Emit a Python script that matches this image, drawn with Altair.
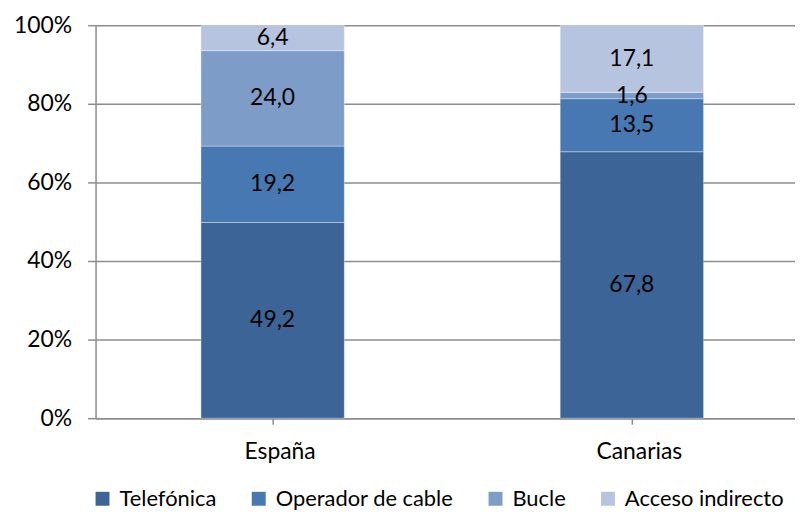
import altair as alt
import pandas as pd

categories = ["España", "Canarias"]
series = ["Telefónica", "Operador de cable", "Bucle", "Acceso indirecto"]
espana = [49.2, 19.2, 24.0, 6.4]
canarias = [67.8, 13.5, 1.6, 17.1]
colors = ["#3c6496", "#4778b1", "#7e9cc8", "#b7c4e0"]
y_ticks = [0, 0.2, 0.4, 0.6, 0.8, 1.0]

rows = []
for cat, vals in zip(categories, [espana, canarias]):
    for i, (s, v) in enumerate(zip(series, vals)):
        rows.append({"cat": cat, "serie": s, "value": v, "order": i})
df = pd.DataFrame(rows)

FONT = "Lato"
FS = 23
SHIFT = 7

x_enc = alt.X("cat:N", sort=categories,
              scale=alt.Scale(paddingInner=0.601, paddingOuter=0.274),
              axis=alt.Axis(title=None, labelAngle=0, labelFontSize=FS, labelFont=FONT,
                            labelColor="#000000", labelPadding=17, tickSize=6,
                            tickColor="#8c8c8c", domainColor="#8c8c8c", domainWidth=1.5,
                            tickWidth=1.5, tickOffset=SHIFT, labelOffset=SHIFT))

bars = alt.Chart(df).mark_bar(stroke="#ffffff", strokeWidth=1, strokeOpacity=0.35,
                              xOffset=SHIFT).encode(
    x=x_enc,
    y=alt.Y("value:Q", stack="normalize",
            scale=alt.Scale(domain=[0, 1]),
            axis=alt.Axis(title=None, format=".0%", values=y_ticks, labelFontSize=FS,
                          labelFont=FONT, labelColor="#000000", tickSize=8,
                          labelPadding=16, grid=True, gridColor="#8c8c8c", gridWidth=1.5,
                          tickColor="#8c8c8c", tickWidth=1.5, domainColor="#8c8c8c",
                          domainWidth=1.5, minExtent=79, maxExtent=79)),
    color=alt.Color("serie:N", sort=series,
                    scale=alt.Scale(domain=series, range=colors),
                    legend=alt.Legend(title=None, orient="none", direction="horizontal",
                                      legendX=-4, legendY=465, symbolType="square",
                                      symbolSize=196, symbolStrokeWidth=0,
                                      labelFontSize=22, labelFont=FONT, labelLimit=0,
                                      labelColor="#000000", columnPadding=31,
                                      labelOffset=6)),
    order=alt.Order("order:Q"),
)

labels = alt.Chart(df).transform_joinaggregate(
    total="sum(value)", groupby=["cat"]
).transform_window(
    cum="sum(value)", groupby=["cat"], sort=[alt.SortField("order")]
).transform_calculate(
    mid="(datum.cum - datum.value/2) / datum.total",
    label="replace(format(datum.value, '.1f'), '.', ',')",
).mark_text(fontSize=FS, font=FONT, color="#000000", baseline="middle",
            xOffset=SHIFT).encode(
    x=alt.X("cat:N", sort=categories),
    y=alt.Y("mid:Q"),
    text="label:N",
)

chart = alt.layer(bars, labels).properties(
    width=703, height=395,
    padding={"left": 5, "top": 5, "right": 0, "bottom": 0},
).configure_view(stroke=None)

chart.save("out.html", embed_options={"renderer": "svg", "actions": False})
